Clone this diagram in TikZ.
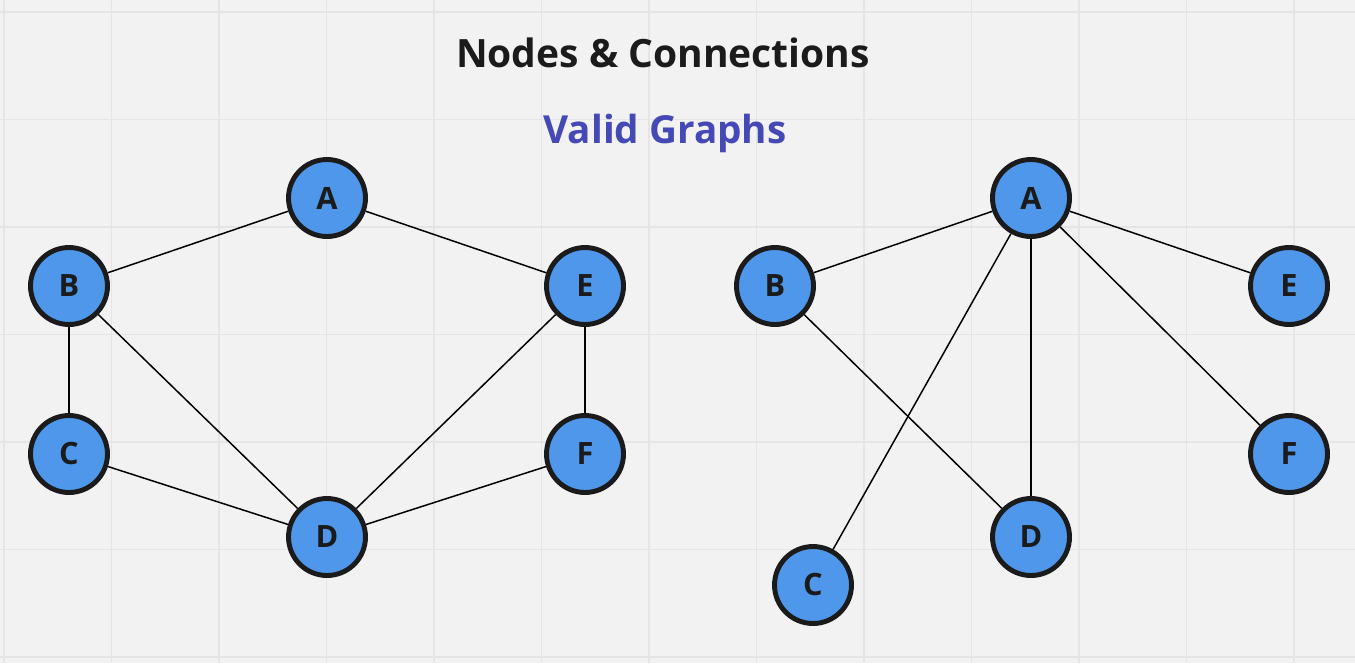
\documentclass[tikz,border=0pt]{standalone}
\usepackage{fontspec}
\setmainfont{Open Sans}
\usepackage{tikz}
\usetikzlibrary{positioning}
\definecolor{bgGray}{HTML}{F2F2F2}
\definecolor{gridGray}{HTML}{E5E5E5}
\definecolor{nodeBlue}{HTML}{4F97EA}
\definecolor{titleBlue}{HTML}{4449B5}
\definecolor{inkDark}{HTML}{1B1B1B}
\tikzset{graph-node/.style={circle, draw=inkDark, fill=nodeBlue, line width=2.8pt, minimum size=1.54cm, inner sep=0, font=\fontsize{17.5}{20}\selectfont\bfseries, text=inkDark}}
\tikzset{graph-edge/.style={line width=0.85pt, black}}
\tikzset{title-text/.style={font=\fontsize{22.2}{26}\selectfont\bfseries, text=inkDark}}
\tikzset{sub-text/.style={font=\fontsize{22}{25}\selectfont\bfseries, text=titleBlue}}

\begin{document}
\begin{tikzpicture}[x=0.02cm, y=-0.02cm]
    \fill[bgGray] (0,0) rectangle (1355,663);
    \useasboundingbox (0,0) rectangle (1355,663);
    % grid
    \foreach \gx in {4,111.5,...,1360} {
        \draw[gridGray, line width=0.6pt] (\gx,0) -- (\gx,663);
    }
    \foreach \gy in {12,119.5,...,663} {
        \draw[gridGray, line width=0.6pt] (0,\gy) -- (1355,\gy);
    }

    \node[title-text] (title) at (663,53) {Nodes \& Connections};
    \node[sub-text] (subtitle) at (665,133) {Valid Graphs};

    % left graph
    \node[graph-node] (la) at (327,198) {A};
    \node[graph-node] (lb) at (69,286) {B};
    \node[graph-node] (le) at (585,286) {E};
    \node[graph-node] (lc) at (69,454) {C};
    \node[graph-node] (lf) at (585,454) {F};
    \node[graph-node] (ld) at (327,537) {D};

    \draw[graph-edge] (la) -- (lb);
    \draw[graph-edge] (la) -- (le);
    \draw[graph-edge] (lb) -- (lc);
    \draw[graph-edge] (lb) -- (ld);
    \draw[graph-edge] (le) -- (lf);
    \draw[graph-edge] (le) -- (ld);
    \draw[graph-edge] (lc) -- (ld);
    \draw[graph-edge] (lf) -- (ld);

    % right graph
    \node[graph-node] (ra) at (1031,198) {A};
    \node[graph-node] (rb) at (775,286) {B};
    \node[graph-node] (re) at (1289,286) {E};
    \node[graph-node] (rf) at (1289,454) {F};
    \node[graph-node] (rd) at (1031,537) {D};
    \node[graph-node] (rc) at (813,585) {C};

    \draw[graph-edge] (ra) -- (rb);
    \draw[graph-edge] (ra) -- (re);
    \draw[graph-edge] (ra) -- (rf);
    \draw[graph-edge] (ra) -- (rd);
    \draw[graph-edge] (ra) -- (rc);
    \draw[graph-edge] (rb) -- (rd);
\end{tikzpicture}
\end{document}
